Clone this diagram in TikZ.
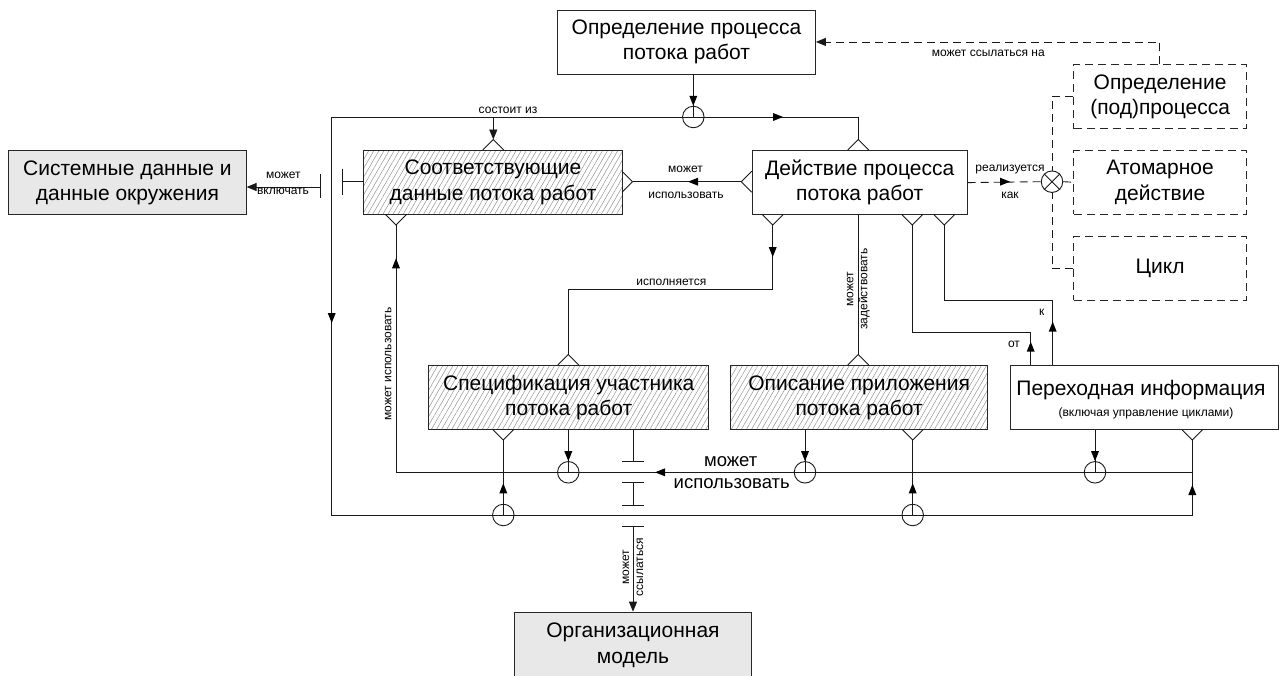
\documentclass[tikz,border=0pt]{standalone}
\usepackage{fontspec}
\setmainfont{Liberation Sans}
\usetikzlibrary{arrows.meta,patterns.meta,calc}

\tikzset{
  link/.style={line width=0.9pt, draw=black!90},
  dlink/.style={link, dash pattern=on 8pt off 5pt},
  head/.style={-{Triangle[length=10pt,width=8pt]}},
  boxtext/.style={font=\fontsize{21}{25.5}\selectfont, align=center, inner sep=0pt},
  plainbox/.style={boxtext, draw=black!85, line width=0.9pt, fill=white},
  greybox/.style={boxtext, draw=black!85, line width=0.9pt, fill=gray!18},
  hatchbox/.style={boxtext, draw=black!85, line width=0.9pt,
    pattern={Lines[angle=60,distance=4.4pt,line width=0.5pt]}, pattern color=black!42},
  dashbox/.style={plainbox, dash pattern=on 8pt off 5pt},
  lab/.style={font=\fontsize{12}{14}\selectfont, inner sep=0pt, align=center},
  biglab/.style={font=\fontsize{18.5}{22}\selectfont, inner sep=0pt},
  ring/.style={circle, draw=black!90, line width=0.9pt, minimum size=21.5pt, inner sep=0pt},
  % open feet at box edges, apex at the origin
  footN/.pic={\draw[link] (-10.5,10.5) -- (0,0) -- (10.5,10.5);},
  footS/.pic={\draw[link] (-10.5,-10.5) -- (0,0) -- (10.5,-10.5);},
  footE/.pic={\draw[link] (-10.5,-10.5) -- (0,0) -- (-10.5,10.5);},
  footW/.pic={\draw[link] (10.5,-10.5) -- (0,0) -- (10.5,10.5);},
  % arrowheads placed along a line, tip at the origin
  tipD/.pic={\fill[black] (0,0) -- (-4,-10) -- (4,-10) -- cycle;},
  tipU/.pic={\fill[black] (0,0) -- (-4,10) -- (4,10) -- cycle;},
  tipR/.pic={\fill[black] (0,0) -- (-10,-4) -- (-10,4) -- cycle;},
  tipL/.pic={\fill[black] (0,0) -- (10,-4) -- (10,4) -- cycle;},
}

\begin{document}
\begin{tikzpicture}[x=1pt,y=-1pt]
\useasboundingbox (0,0) rectangle (1285,675);
\fill[white] (0,0) rectangle (1285,675);

% ---------- entities ----------
\node[plainbox, minimum width=258pt, minimum height=64pt, anchor=north west] (def) at (557,9.5) {Определение процесса\\потока работ};
\node[greybox, minimum width=237.4pt, minimum height=64.3pt, anchor=north west] (sys) at (8.3,150) {Системные данные и\\данные окружения};
\node[hatchbox, minimum width=258.5pt, minimum height=64.3pt, anchor=north west] (data) at (363.5,150) {Соответствующие\\данные потока работ};
\node[plainbox, minimum width=215pt, minimum height=64.3pt, anchor=north west] (act) at (751.7,150) {Действие процесса\\потока работ};
\node[dashbox, minimum width=172.7pt, minimum height=64pt, anchor=north west] (sub) at (1073.3,64.3) {Определение\\(под)процесса};
\node[dashbox, minimum width=172.7pt, minimum height=63.5pt, anchor=north west] (atom) at (1073.3,150) {Атомарное\\действие};
\node[dashbox, minimum width=172.7pt, minimum height=64pt, anchor=north west] (cyc) at (1073.3,236) {Цикл};
\node[hatchbox, minimum width=280pt, minimum height=64.3pt, anchor=north west] (part) at (428.3,365) {Спецификация участника\\потока работ};
\node[hatchbox, minimum width=257.3pt, minimum height=64.3pt, anchor=north west] (app) at (730,365) {Описание приложения\\потока работ};
\node[plainbox, minimum width=268.3pt, minimum height=64.3pt, anchor=north west] (trans) at (1010,365) {};
\node[boxtext] (transA) at (1141,390) {Переходная информация};
\node[lab] (transB) at (1146,413.3) {(включая управление циклами)};
\node[greybox, minimum width=236.4pt, minimum height=66.6pt, anchor=north west] (org) at (514.3,611.7) {Организационная\\модель};

% ---------- junction rings ----------
\node[ring] (c0) at (693.3,117) {};
\node[ring] (cx) at (1052,181.7) {};
\draw[link] (cx.north east) -- (cx.south west) (cx.north west) -- (cx.south east);
\node[ring] (m1) at (568.3,472.3) {};
\node[ring] (m2) at (805,472.3) {};
\node[ring] (m3) at (1095,472.3) {};
\node[ring] (b1) at (503.3,515) {};
\node[ring] (b2) at (912.7,515) {};

% ---------- feet on the entities ----------
\coordinate (dataN) at (493.3,139.5);
\coordinate (dataE) at (632.5,181.7);
\coordinate (dataS) at (396,225);
\coordinate (actN) at (858.3,139.5);
\coordinate (actW) at (741.2,181.7);
\coordinate (actS1) at (772.7,225);
\coordinate (actS3) at (912.3,225);
\coordinate (actS4) at (944.3,225);
\coordinate (partN) at (568.3,354.5);
\coordinate (partS) at (503.3,440);
\coordinate (appN) at (858.3,354.5);
\coordinate (appS) at (912.7,440);
\coordinate (transS) at (1192.3,440);
\foreach \p in {dataN,actN,partN,appN} \pic at (\p) {footN};
\foreach \p in {dataS,actS1,actS3,actS4,partS,appS,transS} \pic at (\p) {footS};
\pic at (dataE) {footE};
\pic at (actW) {footW};

% ---------- outer loop: consists of ----------
\coordinate (tl) at (331.7,117);
\coordinate (bl) at (331.7,515);
\coordinate (br) at (1192.3,515);
\draw[link] (def.south -| c0) -- (c0.center);
\pic at (c0.north) {tipD};
\draw[link] (actN) |- (tl) -- (bl) -- (br) -- (transS);
\draw[link, head] (dataN |- tl) -- (dataN);
\pic at (783,117) {tipR};
\pic at (331.7,323) {tipD};
\pic at (1192.3,485) {tipU};
\node[lab] (lConsist) at (508,110) {состоит из};

% ---------- data links ----------
\draw[link] (dataE) -- (actW);
\pic at (688,181.7) {tipL};
\node[lab] (lUse1) at (685.5,169.3) {может};
\node[lab] (lUse2) at (686,195) {использовать};

\coordinate (t1) at (342.7,181.7);
\coordinate (t2) at (320.7,187);
\draw[link] (t1) -- (t1 -| data.west);
\draw[link] ([yshift=13pt]t1) -- ([yshift=-13pt]t1);
\draw[link, head] (t2) -- (t2 -| sys.east);
\draw[link] ([yshift=13pt]t2) -- ([yshift=-11pt]t2);
\node[lab] (lInc1) at (283.3,175) {может};
\node[lab] (lInc2) at (283,191) {включать};

% ---------- may use (middle bus) ----------
\draw[link] (dataS) -- (dataS |- m1) -- (transS |- m1);
\pic at (396,258.3) {tipU};
\pic at (655,472.3) {tipL};
\node[lab, rotate=90] (lUse3) at (388.3,364) {может использовать};
\node[biglab] (lBig1) at (730.7,461.7) {может};
\node[biglab] (lBig2) at (731.7,483.3) {использовать};
\draw[link] (part.south -| m1) -- (m1.center);
\pic at (m1.north) {tipD};
\draw[link] (app.south -| m2) -- (m2.center);
\pic at (m2.north) {tipD};
\draw[link] (trans.south -| m3) -- (m3.center);
\pic at (m3.north) {tipD};
\draw[link] (partS) -- (b1.center);
\pic at (503.3,483.3) {tipU};
\draw[link] (appS) -- (b2.center);
\pic at (912.7,483.3) {tipU};

% ---------- participant refers to organisation model ----------
\coordinate (k1) at (633,461.7);
\coordinate (k2) at (633,482.3);
\coordinate (k3) at (633,505);
\coordinate (k4) at (633,526.7);
\draw[link] (part.south -| k1) -- (k1);
\draw[link] (k2) -- (k3);
\draw[link, head] (k4) -- (org.north -| k4);
\foreach \k in {k1,k2,k3,k4} \draw[link] ([xshift=-11pt]\k) -- ([xshift=11pt]\k);
\node[lab, rotate=90] (lRef2) at (633,567) {может\\ссылаться};

% ---------- activity links ----------
\coordinate (e1) at (772.7,289.3);
\draw[link] (actS1) -- (e1) -| (partN);
\pic at (772.7,257) {tipD};
\node[lab] (lExec) at (671.3,282.7) {исполняется};

\draw[link] (act.south -| appN) -- (appN);
\node[lab, rotate=90] (lEng) at (858.3,289) {может\\задействовать};

\coordinate (f2) at (1030.7,332.7);
\draw[link] (actS3) |- (f2) -- (f2 |- trans.north);
\pic at (1030.7,341.7) {tipU};
\node[lab] (lFrom) at (1014,344) {от};

\coordinate (g2) at (1052.7,300);
\draw[link] (actS4) |- (g2) -- (g2 |- trans.north);
\pic at (1052.7,321.7) {tipU};
\node[lab] (lTo) at (1041.7,312) {к};

% ---------- implementation alternatives ----------
\draw[dlink] (act.east) -- (cx.west);
\pic at (1010,181.7) {tipR};
\node[lab] (lReal1) at (1010,170) {реализуется};
\node[lab] (lReal2) at (1010,195) {как};
\draw[dlink] (cx.east) -- (atom.west);
\draw[dlink] (sub.west) -| (cx.north);
\draw[dlink] (cyc.west) -| (cx.south);

\coordinate (h1) at (1159.3,0);
\draw[dlink, head] (sub.north -| h1) |- (def.east);
\node[lab] (lRef) at (988.3,53.3) {может ссылаться на};
\end{tikzpicture}
\end{document}
